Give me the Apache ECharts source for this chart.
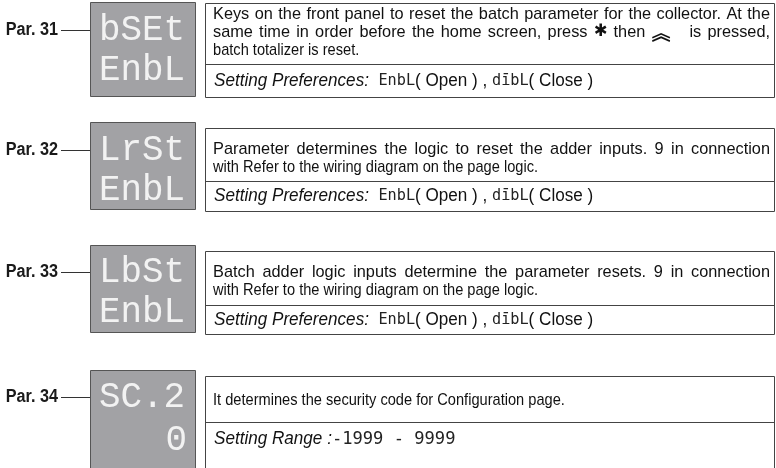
<!DOCTYPE html>
<html><head><meta charset="utf-8">
<script src="https://cdn.jsdelivr.net/npm/echarts@6/dist/echarts.min.js"></script>
<style>html,body{margin:0;padding:0;background:#fff}#c{width:776px;height:468px}</style>
</head><body><div id="c"></div>
<script>
// ---- data ----
const paramLabels = ['Par. 31', 'Par. 32', 'Par. 33', 'Par. 34'];
const displayTop = ['bSEt', 'LrSt', 'LbSt', 'SC.2'];
const displayBottom = ['EnbL', 'EnbL', 'EnbL', '0'];
const descriptions = [
  ['Keys on the front panel to reset the batch parameter for the collector. At the',
   'same time in order before the home screen, press \u2731 then \uFE3D   is pressed,',
   'batch totalizer is reset.'],
  ['Parameter determines the logic to reset the adder inputs. 9 in connection',
   'with Refer to the wiring diagram on the page logic.'],
  ['Batch adder logic inputs determine the parameter resets. 9 in connection',
   'with Refer to the wiring diagram on the page logic.'],
  ['It determines the security code for Configuration page.']
];
const settingLabels = ['Setting Preferences:', 'Setting Preferences:', 'Setting Preferences:', 'Setting Range :'];
const settingOptions = [
  [['EnbL', 'Open'], ['d\u012BbL', 'Close']],
  [['EnbL', 'Open'], ['d\u012BbL', 'Close']],
  [['EnbL', 'Open'], ['d\u012BbL', 'Close']],
  []
];
const settingRanges = ['', '', '', '-1999 - 9999'];

// ---- layout ----
const L = [
  {g: 2,   gh: 94,  t: 3,   b: 97,  sep: 64,  lines: [14, 32, 50], set: 81,  r1: 30,  r2: 70,  r2right: false},
  {g: 122, gh: 87,  t: 128, b: 211, sep: 181, lines: [149, 167],   set: 196, r1: 150, r2: 190, r2right: false},
  {g: 245, gh: 87,  t: 251, b: 334, sep: 305, lines: [272, 290],   set: 320, r1: 272, r2: 312, r2right: false},
  {g: 370, gh: 110, t: 376, b: 490, sep: 422, lines: [400],        set: 439, r1: 397, r2: 440, r2right: true}
];
const SEG = '"Liberation Mono", "DejaVu Sans Mono", monospace';
const TXT = '"Liberation Sans", Arial, sans-serif';
const BODY_FONT = '17px ' + TXT;
const SYM_FONT = 'bold 17px "DejaVu Sans"';
const CHEV_FONT = 'bold 20px "Noto Sans CJK SC"';
const BASE_SX = 0.86;
const JUST_SX = 0.96;
const JUSTIFY_W = 557;

const cv = document.createElement('canvas').getContext('2d');
function pieceInfo(ch) {
  if (ch === '\u2731') return {tag: 'sym', font: SYM_FONT};
  if (ch === '\uFE3D') return {tag: 'chev', font: CHEV_FONT};
  return null;
}
function measureWord(w) {
  if (![...w].some(pieceInfo)) { cv.font = BODY_FONT; return cv.measureText(w).width; }
  let total = 0;
  for (const ch of w) {
    const p = pieceInfo(ch);
    cv.font = p ? p.font : BODY_FONT;
    total += cv.measureText(ch).width;
  }
  return total;
}
function markupWord(w) {
  return [...w].map(ch => { const p = pieceInfo(ch); return p ? '{' + p.tag + '|' + ch + '}' : ch; }).join('');
}
function buildLine(line, justify) {
  if (!justify) return {text: markupWord(line), sx: BASE_SX, gap: 0};
  const parts = line.split(' ');
  const gaps = parts.length - 1;
  const wordsW = parts.reduce((a, w) => a + (w ? measureWord(w) : 0), 0);
  const gap = (JUSTIFY_W / JUST_SX - wordsW) / gaps;
  return {text: parts.map(markupWord).join('{sp| }'), sx: JUST_SX, gap};
}

const els = [];
paramLabels.forEach((p, i) => {
  const l = L[i];
  els.push({type: 'text', x: 58, y: l.r1, style: {text: p, font: 'bold 18px ' + TXT, fill: '#1a1a1a', align: 'right', verticalAlign: 'middle'}, scaleX: 0.9});
  els.push({type: 'line', shape: {x1: 61, y1: l.r1 + 0.5, x2: 91, y2: l.r1 + 0.5}, style: {stroke: '#333', lineWidth: 1}});
  els.push({type: 'rect', shape: {x: 90.5, y: l.g + 0.5, width: 105, height: l.gh}, style: {fill: '#a2a2a5', stroke: '#555', lineWidth: 1}});
  const dispStyle = {font: '37px ' + SEG, fill: '#f2f2f2', verticalAlign: 'middle'};
  els.push({type: 'text', x: 99, y: l.r1, scaleX: 0.97, style: Object.assign({text: displayTop[i]}, dispStyle)});
  if (l.r2right) {
    els.push({type: 'text', x: 187, y: l.r2, scaleX: 0.97, style: Object.assign({text: displayBottom[i], align: 'right'}, dispStyle)});
  } else {
    els.push({type: 'text', x: 99, y: l.r2, scaleX: 0.97, style: Object.assign({text: displayBottom[i]}, dispStyle)});
  }
  els.push({type: 'rect', shape: {x: 205.5, y: l.t + 0.5, width: 569, height: l.b - l.t}, style: {fill: 'none', stroke: '#444', lineWidth: 1}});
  els.push({type: 'line', shape: {x1: 205, y1: l.sep + 0.5, x2: 775, y2: l.sep + 0.5}, style: {stroke: '#444', lineWidth: 1}});
  descriptions[i].forEach((line, k) => {
    const last = k === descriptions[i].length - 1;
    const b = buildLine(line, !last);
    els.push({type: 'text', x: 213, y: l.lines[k], scaleX: b.sx, style: {
      text: b.text, font: BODY_FONT, fill: '#111', verticalAlign: 'middle',
      rich: {
        sym: {font: SYM_FONT, fill: '#111'},
        chev: {font: CHEV_FONT, fill: '#111'},
        sp: {font: BODY_FONT, width: Math.max(b.gap, 1)}
      }
    }});
  });
  let s = '{it|' + settingLabels[i] + '}';
  if (settingOptions[i].length) {
    s += '{n|  }' + settingOptions[i].map(o => '{seg|' + o[0] + '}{n|( ' + o[1] + ' )}').join('{n| , }');
  } else {
    s += '{rng|' + settingRanges[i] + '}';
  }
  els.push({type: 'text', x: 214, y: l.set, scaleX: 0.95, style: {
    text: s, fill: '#111', verticalAlign: 'middle', font: '18px ' + TXT,
    rich: {
      it: {font: 'italic 18px ' + TXT, fill: '#111'},
      n: {font: '18px ' + TXT, fill: '#111'},
      seg: {font: '16px "DejaVu Sans Mono"', fill: '#222'},
      rng: {font: '18px "DejaVu Sans Mono"', fill: '#222'}
    }
  }});
});

const chart = echarts.init(document.getElementById('c'), null, {renderer: 'canvas'});
chart.setOption({animation: false, graphic: {elements: els}});
</script></body></html>
